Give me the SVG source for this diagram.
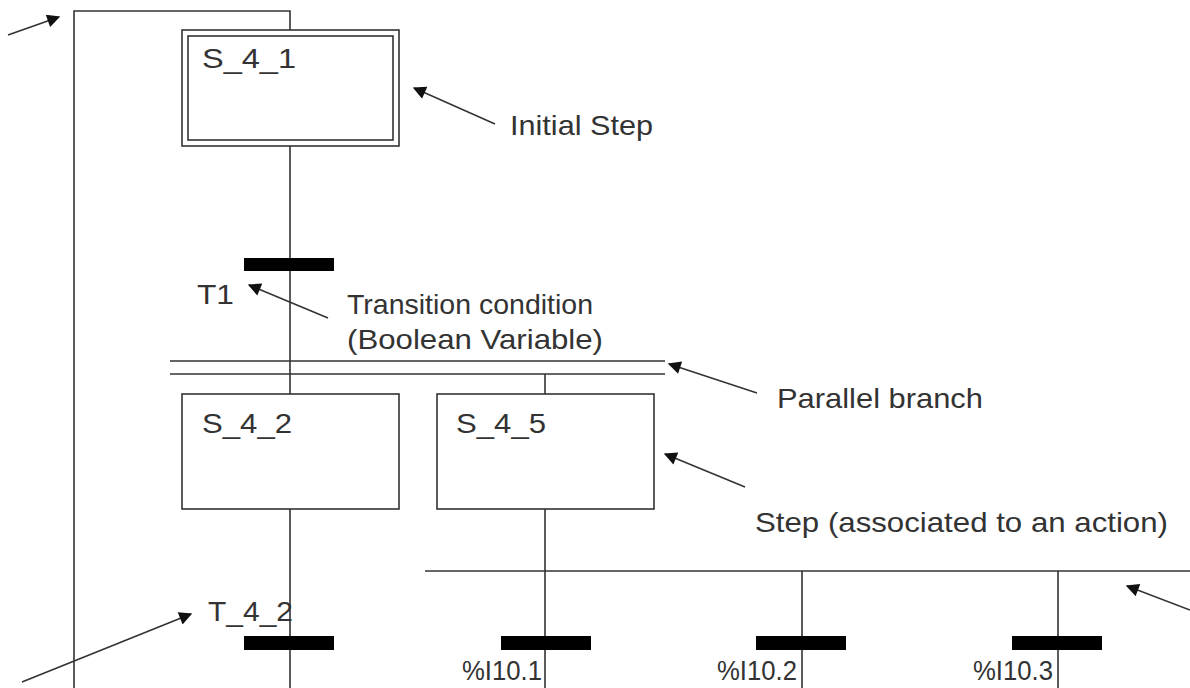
<svg xmlns="http://www.w3.org/2000/svg" width="1190" height="688" viewBox="0 0 1190 688">
<defs>
<marker id="ah" viewBox="0 0 10 10" refX="9" refY="5" markerWidth="20" markerHeight="13" markerUnits="userSpaceOnUse" orient="auto">
<path d="M0,0 L10,5 L0,10 z" fill="#111"/>
</marker>
</defs>
<style>
.ln{stroke:#333;stroke-width:1.6;fill:none}
.box{stroke:#333;stroke-width:1.6;fill:#fff}
.bar{fill:#000}
.ar{stroke:#333;stroke-width:1.6;fill:none;marker-end:url(#ah)}
text{font-family:"Liberation Sans",Arial,sans-serif;fill:#333}
.lbl{font-size:28px}
.nd{font-size:28px}
</style>
<rect width="1190" height="688" fill="#fff"/>
<g id="connectors">
<path class="ln" d="M74,688 V11 H290 V30"/>
<path class="ln" d="M290,146 V394"/>
<path class="ln" d="M170,361 H665 M170,374 H665"/>
<path class="ln" d="M545,374 V394"/>
<path class="ln" d="M290,509 V688"/>
<path class="ln" d="M545,509 V688"/>
<path class="ln" d="M425,571 H1190"/>
<path class="ln" d="M802,571 V688 M1058,571 V688"/>
<line class="ar" x1="8" y1="35" x2="59" y2="17"/>
<line class="ar" x1="495" y1="124" x2="414" y2="88"/>
<line class="ar" x1="328" y1="318" x2="249" y2="285"/>
<line class="ar" x1="757" y1="393" x2="669" y2="364"/>
<line class="ar" x1="745" y1="487" x2="665" y2="454"/>
<line class="ar" x1="22" y1="682" x2="191" y2="614"/>
<line class="ar" x1="1190" y1="610" x2="1127" y2="586"/>
</g>
<g id="S_4_1">
<rect class="box" x="182" y="30" width="217" height="116"/>
<rect class="box" x="188" y="36" width="205" height="104"/>
<text class="nd" x="202" y="68" textLength="94" lengthAdjust="spacingAndGlyphs">S_4_1</text>
</g>
<g id="T1">
<rect class="bar" x="244" y="258" width="90" height="13"/>
<text class="nd" x="197" y="304" textLength="37" lengthAdjust="spacingAndGlyphs">T1</text>
</g>
<g id="S_4_2">
<rect class="box" x="182" y="394" width="217" height="115"/>
<text class="nd" x="202" y="433" textLength="90" lengthAdjust="spacingAndGlyphs">S_4_2</text>
</g>
<g id="S_4_5">
<rect class="box" x="437" y="394" width="217" height="115"/>
<text class="nd" x="456" y="433" textLength="90" lengthAdjust="spacingAndGlyphs">S_4_5</text>
</g>
<g id="T_4_2">
<rect class="bar" x="244" y="636" width="90" height="14"/>
<text class="nd" x="208" y="621" textLength="85" lengthAdjust="spacingAndGlyphs">T_4_2</text>
</g>
<g id="I10_1">
<rect class="bar" x="501" y="636" width="90" height="14"/>
<text class="nd" x="462" y="680" textLength="80" lengthAdjust="spacingAndGlyphs">%I10.1</text>
</g>
<g id="I10_2">
<rect class="bar" x="756" y="636" width="90" height="14"/>
<text class="nd" x="717" y="680" textLength="80" lengthAdjust="spacingAndGlyphs">%I10.2</text>
</g>
<g id="I10_3">
<rect class="bar" x="1012" y="636" width="90" height="14"/>
<text class="nd" x="973" y="680" textLength="80" lengthAdjust="spacingAndGlyphs">%I10.3</text>
</g>
<g id="annotations">
<text class="lbl" x="510" y="135" textLength="143" lengthAdjust="spacingAndGlyphs">Initial Step</text>
<text class="lbl" x="347" y="314" textLength="246" lengthAdjust="spacingAndGlyphs">Transition condition</text>
<text class="lbl" x="347" y="349" textLength="256" lengthAdjust="spacingAndGlyphs">(Boolean Variable)</text>
<text class="lbl" x="777" y="408" textLength="206" lengthAdjust="spacingAndGlyphs">Parallel branch</text>
<text class="lbl" x="755" y="532" textLength="413" lengthAdjust="spacingAndGlyphs">Step (associated to an action)</text>
</g>
</svg>
